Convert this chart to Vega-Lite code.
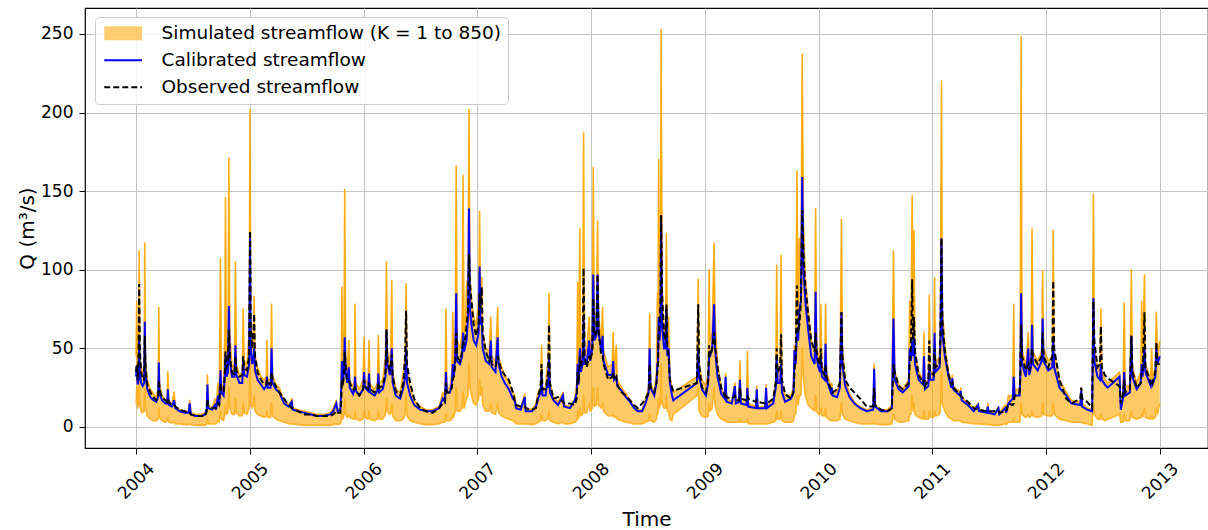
{
 "$schema": "https://vega.github.io/schema/vega-lite/v6.json",
 "width": 1123,
 "height": 440,
 "autosize": {"type": "none"},
 "padding": {"left": 85, "top": 8, "right": 0, "bottom": 82},
 "background": "white",
 "config": {
  "font": "DejaVu Sans",
  "view": {"stroke": "#000000", "strokeWidth": 1.2},
  "axis": {"labelFont": "DejaVu Sans", "titleFont": "DejaVu Sans", "labelColor": "#000000", "titleColor": "#000000", "titleFontWeight": "normal", "tickColor": "#000000", "tickSize": 6, "tickWidth": 1, "domain": false, "gridColor": "#c4c4c4", "gridWidth": 1, "labelFontSize": 17, "titleFontSize": 20}
 },
 "data": {"values": [
  {"d":"2004-01-01","lo":15,"hi":45,"c":32,"o":35},
  {"d":"2004-01-03","lo":25,"hi":80,"c":38,"o":40},
  {"d":"2004-01-06","lo":12,"hi":35,"c":27,"o":30},
  {"d":"2004-01-09","lo":14,"hi":40,"c":30,"o":45},
  {"d":"2004-01-11","lo":30,"hi":112,"c":58,"o":91},
  {"d":"2004-01-13","lo":14,"hi":45,"c":35,"o":50},
  {"d":"2004-01-17","lo":10,"hi":38,"c":28,"o":35},
  {"d":"2004-01-22","lo":9,"hi":34,"c":26,"o":30},
  {"d":"2004-01-27","lo":10,"hi":38,"c":28,"o":30},
  {"d":"2004-01-29","lo":25,"hi":117,"c":67,"o":58},
  {"d":"2004-01-31","lo":12,"hi":45,"c":35,"o":38},
  {"d":"2004-02-06","lo":7,"hi":30,"c":24,"o":27},
  {"d":"2004-02-16","lo":5,"hi":24,"c":19,"o":22},
  {"d":"2004-02-26","lo":4,"hi":21,"c":17,"o":19},
  {"d":"2004-03-06","lo":4,"hi":19,"c":16,"o":17},
  {"d":"2004-03-12","lo":5,"hi":24,"c":19,"o":19},
  {"d":"2004-03-14","lo":12,"hi":76,"c":41,"o":30},
  {"d":"2004-03-16","lo":6,"hi":28,"c":22,"o":24},
  {"d":"2004-03-24","lo":4,"hi":20,"c":17,"o":19},
  {"d":"2004-04-04","lo":3,"hi":17,"c":15,"o":17},
  {"d":"2004-04-10","lo":4,"hi":18,"c":15,"o":16},
  {"d":"2004-04-12","lo":6,"hi":35,"c":24,"o":18},
  {"d":"2004-04-15","lo":3,"hi":17,"c":14,"o":16},
  {"d":"2004-04-25","lo":2.5,"hi":14,"c":13,"o":14},
  {"d":"2004-05-02","lo":3,"hi":22,"c":17,"o":14},
  {"d":"2004-05-06","lo":2,"hi":13,"c":12,"o":13},
  {"d":"2004-05-20","lo":2,"hi":11,"c":10,"o":11},
  {"d":"2004-06-05","lo":1.5,"hi":10,"c":9,"o":10},
  {"d":"2004-06-18","lo":1.5,"hi":10,"c":9,"o":9},
  {"d":"2004-06-21","lo":2,"hi":17,"c":15,"o":9},
  {"d":"2004-06-25","lo":1.5,"hi":9,"c":8,"o":8},
  {"d":"2004-07-10","lo":1,"hi":8,"c":7,"o":7},
  {"d":"2004-07-28","lo":1,"hi":8,"c":7,"o":7},
  {"d":"2004-08-10","lo":1,"hi":9,"c":8,"o":7},
  {"d":"2004-08-15","lo":2,"hi":12,"c":12,"o":10},
  {"d":"2004-08-17","lo":5,"hi":33,"c":27,"o":18},
  {"d":"2004-08-20","lo":2,"hi":14,"c":12,"o":13},
  {"d":"2004-09-01","lo":2,"hi":12,"c":11,"o":12},
  {"d":"2004-09-10","lo":2,"hi":18,"c":14,"o":12},
  {"d":"2004-09-14","lo":2,"hi":12,"c":11,"o":12},
  {"d":"2004-09-20","lo":4,"hi":28,"c":20,"o":15},
  {"d":"2004-09-24","lo":3,"hi":16,"c":14,"o":14},
  {"d":"2004-09-28","lo":10,"hi":107,"c":36,"o":28},
  {"d":"2004-10-01","lo":5,"hi":28,"c":22,"o":24},
  {"d":"2004-10-08","lo":4,"hi":25,"c":20,"o":22},
  {"d":"2004-10-12","lo":8,"hi":60,"c":32,"o":35},
  {"d":"2004-10-14","lo":14,"hi":146,"c":46,"o":48},
  {"d":"2004-10-17","lo":8,"hi":45,"c":32,"o":38},
  {"d":"2004-10-22","lo":9,"hi":50,"c":35,"o":40},
  {"d":"2004-10-25","lo":25,"hi":171,"c":77,"o":62},
  {"d":"2004-10-28","lo":12,"hi":60,"c":42,"o":45},
  {"d":"2004-11-04","lo":8,"hi":38,"c":32,"o":35},
  {"d":"2004-11-12","lo":8,"hi":40,"c":32,"o":33},
  {"d":"2004-11-15","lo":18,"hi":105,"c":52,"o":45},
  {"d":"2004-11-18","lo":9,"hi":40,"c":33,"o":36},
  {"d":"2004-11-28","lo":7,"hi":33,"c":28,"o":32},
  {"d":"2004-12-07","lo":7,"hi":35,"c":28,"o":33},
  {"d":"2004-12-10","lo":15,"hi":75,"c":42,"o":45},
  {"d":"2004-12-13","lo":9,"hi":42,"c":33,"o":38},
  {"d":"2004-12-22","lo":8,"hi":40,"c":32,"o":36},
  {"d":"2004-12-29","lo":12,"hi":60,"c":40,"o":45},
  {"d":"2005-01-01","lo":40,"hi":202,"c":120,"o":125},
  {"d":"2005-01-03","lo":15,"hi":70,"c":50,"o":65},
  {"d":"2005-01-08","lo":12,"hi":50,"c":40,"o":50},
  {"d":"2005-01-12","lo":14,"hi":60,"c":44,"o":60},
  {"d":"2005-01-14","lo":20,"hi":83,"c":50,"o":72},
  {"d":"2005-01-17","lo":10,"hi":45,"c":36,"o":45},
  {"d":"2005-01-25","lo":8,"hi":38,"c":30,"o":35},
  {"d":"2005-02-05","lo":7,"hi":32,"c":27,"o":30},
  {"d":"2005-02-15","lo":6,"hi":30,"c":24,"o":27},
  {"d":"2005-02-22","lo":7,"hi":32,"c":26,"o":27},
  {"d":"2005-02-24","lo":10,"hi":55,"c":32,"o":30},
  {"d":"2005-02-27","lo":6,"hi":30,"c":25,"o":28},
  {"d":"2005-03-08","lo":6,"hi":30,"c":25,"o":27},
  {"d":"2005-03-11","lo":15,"hi":78,"c":50,"o":35},
  {"d":"2005-03-14","lo":7,"hi":33,"c":28,"o":30},
  {"d":"2005-03-25","lo":5,"hi":27,"c":24,"o":26},
  {"d":"2005-04-05","lo":4,"hi":25,"c":22,"o":22},
  {"d":"2005-04-20","lo":3,"hi":17,"c":15,"o":18},
  {"d":"2005-05-05","lo":2,"hi":14,"c":13,"o":14},
  {"d":"2005-05-15","lo":2,"hi":18,"c":16,"o":12},
  {"d":"2005-05-18","lo":2,"hi":12,"c":11,"o":12},
  {"d":"2005-06-05","lo":1.5,"hi":11,"c":10,"o":10},
  {"d":"2005-06-25","lo":1,"hi":10,"c":9,"o":8},
  {"d":"2005-07-15","lo":1,"hi":9,"c":8,"o":8},
  {"d":"2005-08-05","lo":1,"hi":8,"c":7,"o":7},
  {"d":"2005-08-25","lo":1,"hi":8,"c":7,"o":7},
  {"d":"2005-09-15","lo":1,"hi":9,"c":8,"o":7},
  {"d":"2005-09-25","lo":1.5,"hi":12,"c":10,"o":8},
  {"d":"2005-10-05","lo":2,"hi":17,"c":15,"o":10},
  {"d":"2005-10-09","lo":1.5,"hi":11,"c":10,"o":9},
  {"d":"2005-10-18","lo":2,"hi":12,"c":11,"o":9},
  {"d":"2005-10-21","lo":4,"hi":35,"c":25,"o":18},
  {"d":"2005-10-23","lo":8,"hi":89,"c":42,"o":30},
  {"d":"2005-10-26","lo":5,"hi":35,"c":28,"o":26},
  {"d":"2005-10-30","lo":8,"hi":60,"c":38,"o":35},
  {"d":"2005-11-01","lo":18,"hi":151,"c":57,"o":48},
  {"d":"2005-11-04","lo":8,"hi":45,"c":35,"o":38},
  {"d":"2005-11-09","lo":6,"hi":35,"c":28,"o":30},
  {"d":"2005-11-14","lo":8,"hi":55,"c":38,"o":30},
  {"d":"2005-11-17","lo":6,"hi":30,"c":25,"o":28},
  {"d":"2005-11-28","lo":5,"hi":25,"c":21,"o":24},
  {"d":"2005-12-02","lo":5,"hi":30,"c":24,"o":24},
  {"d":"2005-12-04","lo":10,"hi":78,"c":32,"o":25},
  {"d":"2005-12-07","lo":5,"hi":28,"c":23,"o":23},
  {"d":"2005-12-18","lo":4,"hi":24,"c":20,"o":20},
  {"d":"2005-12-30","lo":5,"hi":30,"c":24,"o":24},
  {"d":"2006-01-02","lo":10,"hi":57,"c":35,"o":30},
  {"d":"2006-01-05","lo":6,"hi":30,"c":25,"o":26},
  {"d":"2006-01-15","lo":5,"hi":28,"c":23,"o":24},
  {"d":"2006-01-18","lo":10,"hi":55,"c":34,"o":28},
  {"d":"2006-01-21","lo":5,"hi":27,"c":22,"o":24},
  {"d":"2006-02-05","lo":4,"hi":24,"c":20,"o":22},
  {"d":"2006-02-14","lo":5,"hi":28,"c":23,"o":23},
  {"d":"2006-02-17","lo":10,"hi":58,"c":34,"o":28},
  {"d":"2006-02-20","lo":5,"hi":28,"c":22,"o":25},
  {"d":"2006-03-03","lo":5,"hi":30,"c":24,"o":26},
  {"d":"2006-03-12","lo":8,"hi":45,"c":32,"o":35},
  {"d":"2006-03-15","lo":18,"hi":105,"c":62,"o":62},
  {"d":"2006-03-18","lo":10,"hi":48,"c":40,"o":42},
  {"d":"2006-03-26","lo":8,"hi":40,"c":33,"o":36},
  {"d":"2006-03-29","lo":9,"hi":50,"c":38,"o":40},
  {"d":"2006-04-01","lo":14,"hi":93,"c":50,"o":46},
  {"d":"2006-04-04","lo":7,"hi":35,"c":28,"o":32},
  {"d":"2006-04-14","lo":4,"hi":24,"c":20,"o":23},
  {"d":"2006-04-28","lo":4,"hi":22,"c":18,"o":20},
  {"d":"2006-05-08","lo":5,"hi":35,"c":25,"o":28},
  {"d":"2006-05-14","lo":8,"hi":45,"c":32,"o":45},
  {"d":"2006-05-17","lo":20,"hi":91,"c":50,"o":74},
  {"d":"2006-05-20","lo":7,"hi":38,"c":28,"o":40},
  {"d":"2006-05-30","lo":4,"hi":25,"c":20,"o":28},
  {"d":"2006-06-12","lo":3,"hi":17,"c":14,"o":18},
  {"d":"2006-07-01","lo":2,"hi":13,"c":11,"o":12},
  {"d":"2006-07-20","lo":1.5,"hi":11,"c":10,"o":10},
  {"d":"2006-08-10","lo":1.5,"hi":11,"c":10,"o":9},
  {"d":"2006-08-31","lo":2,"hi":13,"c":12,"o":12},
  {"d":"2006-09-12","lo":3,"hi":22,"c":18,"o":15},
  {"d":"2006-09-19","lo":3,"hi":18,"c":16,"o":15},
  {"d":"2006-09-22","lo":8,"hi":75,"c":35,"o":28},
  {"d":"2006-09-25","lo":4,"hi":25,"c":22,"o":22},
  {"d":"2006-10-05","lo":4,"hi":25,"c":22,"o":22},
  {"d":"2006-10-11","lo":5,"hi":35,"c":28,"o":25},
  {"d":"2006-10-14","lo":8,"hi":73,"c":40,"o":30},
  {"d":"2006-10-17","lo":6,"hi":38,"c":32,"o":32},
  {"d":"2006-10-22","lo":10,"hi":60,"c":45,"o":40},
  {"d":"2006-10-25","lo":25,"hi":166,"c":85,"o":60},
  {"d":"2006-10-28","lo":10,"hi":55,"c":42,"o":45},
  {"d":"2006-11-06","lo":10,"hi":50,"c":40,"o":42},
  {"d":"2006-11-13","lo":12,"hi":60,"c":45,"o":48},
  {"d":"2006-11-16","lo":22,"hi":160,"c":60,"o":55},
  {"d":"2006-11-19","lo":12,"hi":60,"c":48,"o":52},
  {"d":"2006-11-24","lo":15,"hi":70,"c":52,"o":58},
  {"d":"2006-11-27","lo":18,"hi":90,"c":55,"o":65},
  {"d":"2006-12-02","lo":20,"hi":95,"c":70,"o":75},
  {"d":"2006-12-05","lo":40,"hi":202,"c":139,"o":110},
  {"d":"2006-12-08","lo":25,"hi":95,"c":75,"o":92},
  {"d":"2006-12-13","lo":20,"hi":80,"c":65,"o":80},
  {"d":"2006-12-20","lo":15,"hi":70,"c":55,"o":65},
  {"d":"2006-12-28","lo":14,"hi":65,"c":52,"o":58},
  {"d":"2007-01-05","lo":18,"hi":80,"c":60,"o":65},
  {"d":"2007-01-08","lo":30,"hi":137,"c":102,"o":85},
  {"d":"2007-01-11","lo":20,"hi":80,"c":65,"o":75},
  {"d":"2007-01-15","lo":25,"hi":95,"c":70,"o":89},
  {"d":"2007-01-18","lo":14,"hi":60,"c":50,"o":60},
  {"d":"2007-01-28","lo":10,"hi":50,"c":42,"o":48},
  {"d":"2007-02-08","lo":10,"hi":48,"c":40,"o":42},
  {"d":"2007-02-13","lo":15,"hi":70,"c":55,"o":45},
  {"d":"2007-02-16","lo":9,"hi":45,"c":38,"o":40},
  {"d":"2007-02-28","lo":8,"hi":42,"c":35,"o":38},
  {"d":"2007-03-07","lo":15,"hi":76,"c":57,"o":45},
  {"d":"2007-03-10","lo":9,"hi":45,"c":40,"o":42},
  {"d":"2007-03-20","lo":7,"hi":38,"c":32,"o":36},
  {"d":"2007-03-30","lo":6,"hi":33,"c":28,"o":33},
  {"d":"2007-04-12","lo":5,"hi":28,"c":24,"o":30},
  {"d":"2007-04-25","lo":4,"hi":22,"c":18,"o":22},
  {"d":"2007-05-01","lo":3,"hi":20,"c":17,"o":16},
  {"d":"2007-05-05","lo":2,"hi":14,"c":12,"o":14},
  {"d":"2007-05-20","lo":2,"hi":12,"c":11,"o":13},
  {"d":"2007-06-02","lo":2,"hi":21,"c":19,"o":13},
  {"d":"2007-06-05","lo":2,"hi":12,"c":10,"o":12},
  {"d":"2007-06-25","lo":1.5,"hi":11,"c":10,"o":11},
  {"d":"2007-07-08","lo":2,"hi":15,"c":13,"o":12},
  {"d":"2007-07-15","lo":3,"hi":22,"c":18,"o":20},
  {"d":"2007-07-23","lo":4,"hi":25,"c":22,"o":25},
  {"d":"2007-07-26","lo":8,"hi":52,"c":35,"o":40},
  {"d":"2007-07-29","lo":4,"hi":24,"c":20,"o":24},
  {"d":"2007-08-08","lo":4,"hi":25,"c":20,"o":24},
  {"d":"2007-08-13","lo":5,"hi":38,"c":28,"o":30},
  {"d":"2007-08-16","lo":5,"hi":30,"c":25,"o":35},
  {"d":"2007-08-19","lo":10,"hi":85,"c":45,"o":65},
  {"d":"2007-08-22","lo":4,"hi":28,"c":22,"o":28},
  {"d":"2007-09-02","lo":3,"hi":19,"c":17,"o":18},
  {"d":"2007-09-17","lo":2,"hi":16,"c":14,"o":19},
  {"d":"2007-10-03","lo":3,"hi":22,"c":20,"o":16},
  {"d":"2007-10-06","lo":2,"hi":14,"c":13,"o":15},
  {"d":"2007-10-25","lo":2,"hi":13,"c":12,"o":15},
  {"d":"2007-11-10","lo":3,"hi":18,"c":17,"o":14},
  {"d":"2007-11-16","lo":4,"hi":28,"c":22,"o":18},
  {"d":"2007-11-19","lo":10,"hi":92,"c":40,"o":35},
  {"d":"2007-11-22","lo":5,"hi":35,"c":27,"o":28},
  {"d":"2007-11-26","lo":12,"hi":126,"c":50,"o":45},
  {"d":"2007-11-29","lo":7,"hi":45,"c":35,"o":38},
  {"d":"2007-12-05","lo":8,"hi":50,"c":40,"o":45},
  {"d":"2007-12-08","lo":20,"hi":187,"c":68,"o":101},
  {"d":"2007-12-11","lo":9,"hi":50,"c":40,"o":45},
  {"d":"2007-12-18","lo":9,"hi":48,"c":40,"o":38},
  {"d":"2007-12-26","lo":15,"hi":70,"c":55,"o":45},
  {"d":"2007-12-29","lo":10,"hi":50,"c":42,"o":42},
  {"d":"2008-01-05","lo":12,"hi":60,"c":50,"o":48},
  {"d":"2008-01-08","lo":25,"hi":165,"c":97,"o":82},
  {"d":"2008-01-11","lo":13,"hi":70,"c":55,"o":58},
  {"d":"2008-01-18","lo":14,"hi":70,"c":58,"o":60},
  {"d":"2008-01-22","lo":25,"hi":131,"c":97,"o":97},
  {"d":"2008-01-25","lo":14,"hi":70,"c":60,"o":62},
  {"d":"2008-02-03","lo":12,"hi":55,"c":48,"o":45},
  {"d":"2008-02-07","lo":15,"hi":76,"c":58,"o":45},
  {"d":"2008-02-10","lo":10,"hi":48,"c":42,"o":40},
  {"d":"2008-02-25","lo":7,"hi":38,"c":33,"o":30},
  {"d":"2008-03-09","lo":7,"hi":40,"c":33,"o":32},
  {"d":"2008-03-12","lo":8,"hi":60,"c":42,"o":35},
  {"d":"2008-03-15","lo":6,"hi":35,"c":30,"o":30},
  {"d":"2008-03-22","lo":7,"hi":52,"c":32,"o":32},
  {"d":"2008-03-25","lo":5,"hi":30,"c":26,"o":27},
  {"d":"2008-04-08","lo":4,"hi":25,"c":23,"o":22},
  {"d":"2008-04-22","lo":3,"hi":21,"c":19,"o":20},
  {"d":"2008-05-05","lo":2.5,"hi":17,"c":16,"o":17},
  {"d":"2008-05-18","lo":2,"hi":13,"c":12,"o":14},
  {"d":"2008-05-30","lo":2,"hi":11,"c":10,"o":12},
  {"d":"2008-06-13","lo":2,"hi":11,"c":10,"o":15},
  {"d":"2008-06-24","lo":3,"hi":18,"c":15,"o":18},
  {"d":"2008-07-04","lo":4,"hi":25,"c":22,"o":22},
  {"d":"2008-07-07","lo":8,"hi":72,"c":50,"o":40},
  {"d":"2008-07-10","lo":4,"hi":28,"c":25,"o":25},
  {"d":"2008-07-22","lo":3,"hi":22,"c":20,"o":22},
  {"d":"2008-07-29","lo":5,"hi":35,"c":28,"o":28},
  {"d":"2008-08-01","lo":10,"hi":85,"c":40,"o":35},
  {"d":"2008-08-03","lo":8,"hi":50,"c":40,"o":40},
  {"d":"2008-08-05","lo":18,"hi":170,"c":70,"o":60},
  {"d":"2008-08-08","lo":12,"hi":70,"c":55,"o":65},
  {"d":"2008-08-11","lo":15,"hi":100,"c":65,"o":80},
  {"d":"2008-08-13","lo":40,"hi":253,"c":130,"o":135},
  {"d":"2008-08-16","lo":15,"hi":90,"c":65,"o":85},
  {"d":"2008-08-22","lo":12,"hi":60,"c":50,"o":60},
  {"d":"2008-08-27","lo":12,"hi":60,"c":50,"o":55},
  {"d":"2008-08-30","lo":20,"hi":123,"c":75,"o":78},
  {"d":"2008-09-02","lo":10,"hi":55,"c":45,"o":50},
  {"d":"2008-09-06","lo":10,"hi":70,"c":50,"o":45},
  {"d":"2008-09-10","lo":5,"hi":32,"c":28,"o":30},
  {"d":"2008-09-17","lo":4,"hi":25,"c":20,"o":25},
  {"d":"2008-09-21","lo":8,"hi":22,"c":17,"o":23},
  {"d":"2008-12-06","lo":20,"hi":32,"c":28,"o":28},
  {"d":"2008-12-10","lo":25,"hi":94,"c":50,"o":78},
  {"d":"2008-12-13","lo":10,"hi":40,"c":32,"o":40},
  {"d":"2008-12-22","lo":7,"hi":30,"c":24,"o":25},
  {"d":"2009-01-04","lo":6,"hi":26,"c":20,"o":22},
  {"d":"2009-01-11","lo":7,"hi":35,"c":28,"o":30},
  {"d":"2009-01-14","lo":15,"hi":100,"c":45,"o":52},
  {"d":"2009-01-17","lo":10,"hi":55,"c":45,"o":45},
  {"d":"2009-01-24","lo":12,"hi":60,"c":50,"o":50},
  {"d":"2009-01-30","lo":25,"hi":117,"c":78,"o":60},
  {"d":"2009-02-02","lo":14,"hi":70,"c":50,"o":52},
  {"d":"2009-02-10","lo":8,"hi":40,"c":32,"o":38},
  {"d":"2009-02-22","lo":5,"hi":25,"c":21,"o":25},
  {"d":"2009-03-05","lo":4,"hi":20,"c":18,"o":20},
  {"d":"2009-03-08","lo":5,"hi":34,"c":32,"o":22},
  {"d":"2009-03-11","lo":3,"hi":18,"c":16,"o":19},
  {"d":"2009-03-28","lo":3,"hi":16,"c":15,"o":18},
  {"d":"2009-04-07","lo":3,"hi":28,"c":26,"o":20},
  {"d":"2009-04-10","lo":3,"hi":17,"c":15,"o":17},
  {"d":"2009-04-20","lo":3,"hi":18,"c":16,"o":17},
  {"d":"2009-04-23","lo":5,"hi":42,"c":30,"o":25},
  {"d":"2009-04-26","lo":3,"hi":18,"c":15,"o":18},
  {"d":"2009-05-14","lo":3,"hi":17,"c":14,"o":17},
  {"d":"2009-05-17","lo":5,"hi":48,"c":25,"o":20},
  {"d":"2009-05-20","lo":2,"hi":15,"c":13,"o":18},
  {"d":"2009-06-13","lo":2,"hi":13,"c":12,"o":16},
  {"d":"2009-06-16","lo":2,"hi":26,"c":24,"o":17},
  {"d":"2009-06-19","lo":2,"hi":13,"c":12,"o":16},
  {"d":"2009-07-13","lo":2,"hi":13,"c":12,"o":15},
  {"d":"2009-07-16","lo":2,"hi":27,"c":25,"o":15},
  {"d":"2009-07-19","lo":2,"hi":13,"c":12,"o":15},
  {"d":"2009-08-08","lo":3,"hi":18,"c":15,"o":18},
  {"d":"2009-08-16","lo":4,"hi":30,"c":25,"o":28},
  {"d":"2009-08-19","lo":10,"hi":103,"c":45,"o":50},
  {"d":"2009-08-22","lo":5,"hi":35,"c":28,"o":35},
  {"d":"2009-08-30","lo":5,"hi":35,"c":28,"o":38},
  {"d":"2009-09-02","lo":10,"hi":109,"c":40,"o":59},
  {"d":"2009-09-05","lo":4,"hi":28,"c":22,"o":30},
  {"d":"2009-09-15","lo":3,"hi":20,"c":16,"o":21},
  {"d":"2009-10-04","lo":3,"hi":20,"c":18,"o":18},
  {"d":"2009-10-12","lo":4,"hi":25,"c":22,"o":22},
  {"d":"2009-10-15","lo":8,"hi":52,"c":49,"o":35},
  {"d":"2009-10-19","lo":8,"hi":45,"c":40,"o":45},
  {"d":"2009-10-23","lo":20,"hi":163,"c":60,"o":90},
  {"d":"2009-10-27","lo":14,"hi":75,"c":55,"o":60},
  {"d":"2009-10-31","lo":20,"hi":120,"c":75,"o":65},
  {"d":"2009-11-05","lo":20,"hi":100,"c":80,"o":80},
  {"d":"2009-11-09","lo":50,"hi":237,"c":159,"o":138},
  {"d":"2009-11-13","lo":30,"hi":130,"c":100,"o":110},
  {"d":"2009-11-19","lo":20,"hi":95,"c":80,"o":90},
  {"d":"2009-11-28","lo":14,"hi":75,"c":62,"o":72},
  {"d":"2009-12-08","lo":12,"hi":55,"c":45,"o":55},
  {"d":"2009-12-19","lo":10,"hi":50,"c":40,"o":48},
  {"d":"2009-12-22","lo":20,"hi":139,"c":86,"o":60},
  {"d":"2009-12-25","lo":10,"hi":55,"c":45,"o":48},
  {"d":"2009-12-31","lo":8,"hi":45,"c":38,"o":42},
  {"d":"2010-01-05","lo":8,"hi":42,"c":35,"o":40},
  {"d":"2010-01-08","lo":12,"hi":78,"c":45,"o":50},
  {"d":"2010-01-11","lo":7,"hi":38,"c":32,"o":36},
  {"d":"2010-01-20","lo":7,"hi":36,"c":30,"o":33},
  {"d":"2010-01-23","lo":12,"hi":78,"c":53,"o":40},
  {"d":"2010-01-26","lo":6,"hi":35,"c":30,"o":32},
  {"d":"2010-02-09","lo":4,"hi":26,"c":22,"o":24},
  {"d":"2010-02-12","lo":4,"hi":28,"c":25,"o":22},
  {"d":"2010-02-15","lo":4,"hi":22,"c":20,"o":22},
  {"d":"2010-03-01","lo":4,"hi":22,"c":19,"o":24},
  {"d":"2010-03-10","lo":5,"hi":30,"c":25,"o":28},
  {"d":"2010-03-15","lo":15,"hi":132,"c":73,"o":73},
  {"d":"2010-03-18","lo":8,"hi":50,"c":40,"o":45},
  {"d":"2010-03-27","lo":5,"hi":30,"c":26,"o":30},
  {"d":"2010-04-10","lo":4,"hi":21,"c":19,"o":25},
  {"d":"2010-04-25","lo":3,"hi":16,"c":15,"o":22},
  {"d":"2010-05-14","lo":2,"hi":13,"c":12,"o":18},
  {"d":"2010-06-04","lo":2,"hi":11,"c":10,"o":13},
  {"d":"2010-06-25","lo":2,"hi":12,"c":11,"o":13},
  {"d":"2010-06-28","lo":3,"hi":40,"c":37,"o":25},
  {"d":"2010-07-01","lo":2,"hi":14,"c":13,"o":14},
  {"d":"2010-07-20","lo":1.5,"hi":11,"c":10,"o":11},
  {"d":"2010-08-10","lo":1.5,"hi":11,"c":10,"o":10},
  {"d":"2010-08-24","lo":2,"hi":14,"c":12,"o":12},
  {"d":"2010-08-29","lo":8,"hi":112,"c":69,"o":40},
  {"d":"2010-09-02","lo":5,"hi":35,"c":30,"o":35},
  {"d":"2010-09-15","lo":3,"hi":27,"c":24,"o":26},
  {"d":"2010-09-28","lo":3,"hi":24,"c":22,"o":24},
  {"d":"2010-10-17","lo":4,"hi":30,"c":26,"o":28},
  {"d":"2010-10-20","lo":8,"hi":80,"c":50,"o":40},
  {"d":"2010-10-24","lo":8,"hi":55,"c":42,"o":50},
  {"d":"2010-10-28","lo":20,"hi":147,"c":55,"o":94},
  {"d":"2010-10-31","lo":10,"hi":60,"c":45,"o":55},
  {"d":"2010-11-03","lo":15,"hi":125,"c":57,"o":70},
  {"d":"2010-11-06","lo":8,"hi":48,"c":40,"o":48},
  {"d":"2010-11-18","lo":6,"hi":35,"c":30,"o":33},
  {"d":"2010-12-02","lo":5,"hi":30,"c":27,"o":28},
  {"d":"2010-12-05","lo":10,"hi":60,"c":45,"o":30},
  {"d":"2010-12-08","lo":5,"hi":28,"c":24,"o":26},
  {"d":"2010-12-19","lo":5,"hi":30,"c":26,"o":30},
  {"d":"2010-12-22","lo":10,"hi":84,"c":40,"o":55},
  {"d":"2010-12-25","lo":6,"hi":35,"c":30,"o":35},
  {"d":"2011-01-05","lo":6,"hi":35,"c":30,"o":33},
  {"d":"2011-01-08","lo":10,"hi":95,"c":60,"o":50},
  {"d":"2011-01-11","lo":7,"hi":40,"c":35,"o":38},
  {"d":"2011-01-24","lo":8,"hi":45,"c":38,"o":40},
  {"d":"2011-01-27","lo":12,"hi":70,"c":55,"o":60},
  {"d":"2011-01-30","lo":35,"hi":220,"c":120,"o":120},
  {"d":"2011-02-02","lo":15,"hi":75,"c":60,"o":68},
  {"d":"2011-02-10","lo":10,"hi":52,"c":45,"o":48},
  {"d":"2011-02-22","lo":6,"hi":35,"c":32,"o":33},
  {"d":"2011-03-03","lo":5,"hi":28,"c":25,"o":27},
  {"d":"2011-03-06","lo":5,"hi":33,"c":31,"o":28},
  {"d":"2011-03-09","lo":4,"hi":26,"c":24,"o":25},
  {"d":"2011-03-30","lo":4,"hi":22,"c":20,"o":21},
  {"d":"2011-04-02","lo":4,"hi":25,"c":23,"o":20},
  {"d":"2011-04-05","lo":3,"hi":19,"c":17,"o":19},
  {"d":"2011-04-25","lo":2.5,"hi":15,"c":14,"o":16},
  {"d":"2011-05-14","lo":2,"hi":12,"c":10,"o":12},
  {"d":"2011-05-28","lo":2,"hi":15,"c":14,"o":11},
  {"d":"2011-05-31","lo":2,"hi":11,"c":10,"o":11},
  {"d":"2011-06-25","lo":1.5,"hi":10,"c":9,"o":10},
  {"d":"2011-06-28","lo":1.5,"hi":15,"c":13,"o":10},
  {"d":"2011-07-01","lo":1.5,"hi":10,"c":9,"o":10},
  {"d":"2011-07-20","lo":1,"hi":9,"c":8,"o":10},
  {"d":"2011-08-01","lo":1,"hi":13,"c":12,"o":10},
  {"d":"2011-08-04","lo":1,"hi":9,"c":8,"o":9},
  {"d":"2011-08-23","lo":2,"hi":14,"c":12,"o":10},
  {"d":"2011-08-26","lo":1.5,"hi":10,"c":9,"o":10},
  {"d":"2011-09-02","lo":3,"hi":20,"c":15,"o":15},
  {"d":"2011-09-16","lo":3,"hi":20,"c":18,"o":14},
  {"d":"2011-09-19","lo":5,"hi":78,"c":32,"o":15},
  {"d":"2011-09-22","lo":3,"hi":24,"c":20,"o":20},
  {"d":"2011-10-08","lo":3,"hi":24,"c":20,"o":22},
  {"d":"2011-10-10","lo":5,"hi":45,"c":30,"o":30},
  {"d":"2011-10-13","lo":15,"hi":248,"c":85,"o":65},
  {"d":"2011-10-16","lo":8,"hi":50,"c":40,"o":45},
  {"d":"2011-10-28","lo":6,"hi":38,"c":32,"o":36},
  {"d":"2011-11-05","lo":8,"hi":60,"c":50,"o":40},
  {"d":"2011-11-08","lo":6,"hi":38,"c":33,"o":36},
  {"d":"2011-11-14","lo":7,"hi":45,"c":38,"o":40},
  {"d":"2011-11-17","lo":10,"hi":126,"c":65,"o":50},
  {"d":"2011-11-20","lo":7,"hi":48,"c":40,"o":45},
  {"d":"2011-12-05","lo":6,"hi":42,"c":36,"o":40},
  {"d":"2011-12-18","lo":7,"hi":48,"c":42,"o":45},
  {"d":"2011-12-21","lo":15,"hi":99,"c":69,"o":60},
  {"d":"2011-12-24","lo":8,"hi":50,"c":42,"o":45},
  {"d":"2012-01-08","lo":7,"hi":42,"c":36,"o":38},
  {"d":"2012-01-21","lo":7,"hi":45,"c":38,"o":45},
  {"d":"2012-01-24","lo":15,"hi":125,"c":55,"o":93},
  {"d":"2012-01-27","lo":8,"hi":48,"c":38,"o":50},
  {"d":"2012-02-13","lo":5,"hi":30,"c":25,"o":30},
  {"d":"2012-03-06","lo":4,"hi":22,"c":20,"o":18},
  {"d":"2012-03-22","lo":3,"hi":17,"c":15,"o":15},
  {"d":"2012-04-20","lo":3,"hi":16,"c":14,"o":18},
  {"d":"2012-04-23","lo":3,"hi":25,"c":23,"o":25},
  {"d":"2012-04-26","lo":2.5,"hi":15,"c":13,"o":18},
  {"d":"2012-05-12","lo":2,"hi":12,"c":11,"o":16},
  {"d":"2012-05-28","lo":1,"hi":11,"c":10,"o":12},
  {"d":"2012-06-01","lo":15,"hi":148,"c":82,"o":80},
  {"d":"2012-06-04","lo":8,"hi":50,"c":42,"o":55},
  {"d":"2012-06-14","lo":5,"hi":38,"c":32,"o":38},
  {"d":"2012-06-22","lo":5,"hi":35,"c":30,"o":40},
  {"d":"2012-06-25","lo":8,"hi":75,"c":40,"o":64},
  {"d":"2012-06-28","lo":5,"hi":35,"c":30,"o":38},
  {"d":"2012-07-08","lo":4,"hi":30,"c":27,"o":33},
  {"d":"2012-07-17","lo":5,"hi":28,"c":25,"o":31},
  {"d":"2012-08-24","lo":8,"hi":35,"c":32,"o":26},
  {"d":"2012-08-28","lo":3,"hi":14,"c":11,"o":15},
  {"d":"2012-09-04","lo":3,"hi":22,"c":18,"o":20},
  {"d":"2012-09-08","lo":8,"hi":79,"c":35,"o":30},
  {"d":"2012-09-11","lo":4,"hi":26,"c":20,"o":22},
  {"d":"2012-09-26","lo":4,"hi":26,"c":22,"o":24},
  {"d":"2012-10-01","lo":10,"hi":100,"c":58,"o":58},
  {"d":"2012-10-04","lo":6,"hi":38,"c":32,"o":36},
  {"d":"2012-10-18","lo":5,"hi":28,"c":24,"o":25},
  {"d":"2012-10-31","lo":6,"hi":35,"c":28,"o":28},
  {"d":"2012-11-03","lo":8,"hi":80,"c":40,"o":35},
  {"d":"2012-11-06","lo":6,"hi":38,"c":32,"o":35},
  {"d":"2012-11-12","lo":12,"hi":97,"c":50,"o":73},
  {"d":"2012-11-15","lo":6,"hi":40,"c":35,"o":38},
  {"d":"2012-12-02","lo":5,"hi":30,"c":26,"o":28},
  {"d":"2012-12-05","lo":7,"hi":50,"c":30,"o":30},
  {"d":"2012-12-08","lo":5,"hi":30,"c":27,"o":28},
  {"d":"2012-12-17","lo":6,"hi":38,"c":32,"o":35},
  {"d":"2012-12-20","lo":12,"hi":73,"c":50,"o":54},
  {"d":"2012-12-24","lo":8,"hi":45,"c":40,"o":40},
  {"d":"2012-12-31","lo":15,"hi":55,"c":45,"o":40}
 ]},
 "encoding": {
  "x": {
   "field": "d", "type": "temporal", "title": "Time",
   "scale": {"type": "utc", "domain": [{"year": 2003, "month": 7, "date": 21, "utc": true}, {"year": 2013, "month": 6, "date": 4, "utc": true}]},
   "axis": {"tickCount": {"interval": "year", "step": 1}, "labelExpr": "utcFormat(datum.value, '%Y')", "labelAngle": -45, "labelAlign": "center", "labelBaseline": "middle", "labelPadding": 27, "grid": true, "titleBaseline": "alphabetic", "titleY": 77, "labelFlush": false, "labelOverlap": false}
  }
 },
 "layer": [
  {
   "mark": {"type": "area", "fillOpacity": 0.6, "interpolate": "linear"},
   "encoding": {
    "y": {"field": "lo", "type": "quantitative", "title": "Q (m³/s)",
     "scale": {"domain": [-13.36, 266.5], "nice": false, "zero": false},
     "axis": {"values": [0, 50, 100, 150, 200, 250], "labelPadding": 6, "grid": true, "titleX": -58, "titleBaseline": "middle"}},
    "y2": {"field": "hi"},
    "color": {
     "datum": "Simulated streamflow (K = 1 to 850)", "type": "nominal",
     "scale": {"domain": ["Simulated streamflow (K = 1 to 850)", "Calibrated streamflow", "Observed streamflow"], "range": ["#ffa500", "#0000ff", "#000000"]},
     "legend": {
      "orient": "none", "legendX": 10, "legendY": 9, "title": null,
      "labelFont": "DejaVu Sans", "labelFontSize": 18.5, "labelColor": "#000000", "labelLimit": 0,
      "symbolSize": 196, "labelOffset": 41, "padding": 7, "rowPadding": 8,
      "fillColor": "rgba(255,255,255,0.85)", "strokeColor": "#cccccc", "cornerRadius": 4,
      "encode": {"symbols": {"update": {
       "shape": {"signal": "datum.value === 'Simulated streamflow (K = 1 to 850)' ? 'M-1,-1H4.4V1H-1Z' : 'M-1,0H4.4'"},
       "fill": {"signal": "datum.value === 'Simulated streamflow (K = 1 to 850)' ? '#ffa500' : 'transparent'"},
       "fillOpacity": {"value": 0.55},
       "stroke": {"signal": "datum.value === 'Calibrated streamflow' ? '#0000ff' : (datum.value === 'Observed streamflow' ? '#000000' : 'transparent')"},
       "strokeWidth": {"signal": "datum.value === 'Simulated streamflow (K = 1 to 850)' ? 0 : 2"},
       "strokeDash": {"signal": "datum.value === 'Observed streamflow' ? [6, 3] : [1, 0]"},
       "strokeOpacity": {"value": 1},
       "opacity": {"value": 1}
      }}}
     }
    }
   }
  },
  {
   "mark": {"type": "line", "color": "#ffa500", "strokeWidth": 1.6, "opacity": 0.9, "strokeJoin": "round", "interpolate": "linear"},
   "encoding": {
    "y": {"field": "hi", "type": "quantitative", "title": "Q (m³/s)"}
   }
  },
  {
   "mark": {"type": "line", "color": "#ffa500", "strokeWidth": 1.6, "opacity": 0.75, "strokeJoin": "round", "interpolate": "linear"},
   "encoding": {
    "y": {"field": "lo", "type": "quantitative", "title": "Q (m³/s)"}
   }
  },
  {
   "mark": {"type": "line", "strokeWidth": 2, "interpolate": "linear"},
   "encoding": {
    "y": {"field": "c", "type": "quantitative", "title": "Q (m³/s)"},
    "color": {"datum": "Calibrated streamflow", "type": "nominal"}
   }
  },
  {
   "mark": {"type": "line", "strokeWidth": 2, "strokeDash": [6, 3], "interpolate": "linear"},
   "encoding": {
    "y": {"field": "o", "type": "quantitative", "title": "Q (m³/s)"},
    "color": {"datum": "Observed streamflow", "type": "nominal"}
   }
  }
 ]
}
